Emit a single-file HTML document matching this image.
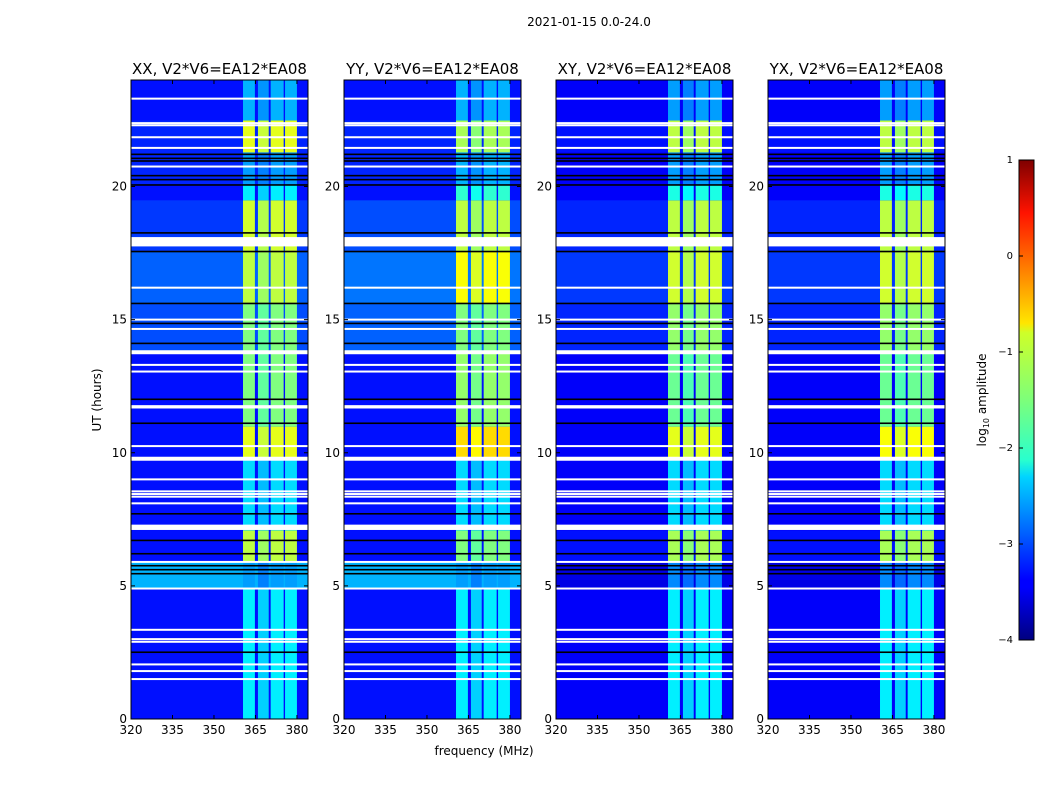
<!DOCTYPE html>
<html><head><meta charset="utf-8"><style>
body{margin:0;background:#fff;width:1050px;height:800px;overflow:hidden;font-family:"DejaVu Sans","Liberation Sans",sans-serif;}
svg text{font-family:"DejaVu Sans","Liberation Sans",sans-serif;}
</style></head><body>
<svg id="fig" width="1050" height="800" xmlns="http://www.w3.org/2000/svg">
<text x="589" y="26" font-size="12" text-anchor="middle">2021-01-15 0.0-24.0</text>
<text x="484" y="755" font-size="12" text-anchor="middle">frequency (MHz)</text>
<text transform="translate(101,400) rotate(-90)" font-size="12" text-anchor="middle">UT (hours)</text>
<defs><linearGradient id="jet" x1="0" y1="1" x2="0" y2="0">
<stop offset="0" stop-color="#00007f"/><stop offset="0.11" stop-color="#0000ff"/><stop offset="0.125" stop-color="#0000ff"/><stop offset="0.34" stop-color="#00d4ff"/><stop offset="0.375" stop-color="#29ffce"/><stop offset="0.5" stop-color="#7dff7a"/><stop offset="0.64" stop-color="#ceff29"/><stop offset="0.66" stop-color="#ffe600"/><stop offset="0.89" stop-color="#ff1300"/><stop offset="1" stop-color="#7f0000"/>
</linearGradient></defs>
<g id="panels"></g>
<g id="cbar">
<rect x="1019" y="160" width="15" height="480" fill="url(#jet)" stroke="#000" stroke-width="1"/>
<text transform="translate(986,400) rotate(-90)" font-size="12" text-anchor="middle">log<tspan font-size="8" dy="3">10</tspan><tspan dy="-3"> amplitude</tspan></text>
</g>
</svg>
<script>
const panelTitles=["XX, V2*V6=EA12*EA08","YY, V2*V6=EA12*EA08","XY, V2*V6=EA12*EA08","YX, V2*V6=EA12*EA08"];
const xTicks=[320,335,350,365,380];
const yTicks=[0,5,10,15,20];
const cbTicks=[1,0,-1,-2,-3,-4];
const segStart=[0,4.9,5.9,7.1,9.8,11.0,13.8,15.6,17.6,19.5,20.1,21.3,22.5];
const segEnd=[4.9,5.9,7.1,9.8,11.0,13.8,15.6,17.6,19.5,20.1,21.3,22.5,24];
const bandXX=[-2.2,-2.6,-1.2,-2.3,-1.0,-1.5,-1.5,-1.2,-1.1,-2.2,-2.6,-1.0,-2.5];
const bandYY=[-2.2,-2.6,-1.5,-2.3,-0.7,-1.4,-1.5,-0.9,-1.2,-1.9,-2.5,-1.3,-2.5];
const bandXY=[-2.2,-2.7,-1.3,-2.3,-1.0,-1.6,-1.4,-1.1,-1.2,-2.0,-2.6,-1.2,-2.6];
const bandYX=[-2.2,-2.7,-1.3,-2.3,-0.9,-1.6,-1.4,-1.1,-1.2,-2.0,-2.6,-1.2,-2.6];
const bgXX=[-3.3,-2.5,-3.3,-3.3,-3.3,-3.3,-3.0,-2.9,-3.1,-3.3,-3.2,-3.2,-3.3];
const bgYY=[-3.3,-2.5,-3.3,-3.3,-3.3,-3.3,-2.9,-2.8,-3.0,-3.3,-3.2,-3.2,-3.3];
const bgXY=[-3.4,-3.5,-3.3,-3.4,-3.4,-3.4,-3.2,-3.1,-3.2,-3.4,-3.4,-3.3,-3.4];
const bgYX=[-3.4,-3.5,-3.3,-3.4,-3.4,-3.4,-3.2,-3.1,-3.2,-3.4,-3.4,-3.3,-3.4];
const colStart=[360.5,365.9,370.5,375.7];
const colEnd=[364.8,369.8,375.2,380.0];
const whiteLines=[23.3,22.38,22.3,21.85,21.45,20.75,16.2,15.0,14.65,13.3,13.05,11.75,11.7,10.25,9.0,8.55,8.45,8.35,8.1,5.9,4.9,3.35,3.0,2.9,2.05,1.8,1.5];
const blackLines=[21.2,21.05,20.95,20.4,20.25,20.05,18.25,17.55,15.6,14.85,14.1,12.0,11.1,7.7,6.7,6.2,5.75,5.6,5.45,2.5];
const thickWhiteStart=[17.75,13.7,9.7,7.1];
const thickWhiteEnd=[18.1,13.85,9.85,7.3];
const bandSets=[bandXX,bandYY,bandXY,bandYX];
const bgSets=[bgXX,bgYY,bgXY,bgYX];
const panelLeft=[131,344,556,768];
const PW=177,PT=80,PB=719,XMIN=320,XMAX=384,YMAX=24;
const NS="http://www.w3.org/2000/svg";
function jet(v){let t=(v+4)/5;t=Math.max(0,Math.min(1,t));
 const r=Math.max(0,Math.min(1,1.5-Math.abs(4*t-3))),g=Math.max(0,Math.min(1,1.5-Math.abs(4*t-2))),b=Math.max(0,Math.min(1,1.5-Math.abs(4*t-1)));
 return `rgb(${Math.round(r*255)},${Math.round(g*255)},${Math.round(b*255)})`;}
function mk(tag,attrs,parent){const e=document.createElementNS(NS,tag);for(const k in attrs)e.setAttribute(k,attrs[k]);parent.appendChild(e);return e;}
const yS=h=>PB-(h/YMAX)*(PB-PT);
const root=document.getElementById('panels');
panelTitles.forEach((title,p)=>{
 const L=panelLeft[p];const xS=f=>L+(f-XMIN)/(XMAX-XMIN)*PW;
 const g=mk('g',{},root);
 
 
 segStart.forEach((s,i)=>{
  const r=mk('rect',{x:L,y:yS(segEnd[i]),width:PW,height:yS(s)-yS(segEnd[i])+0.5,fill:jet(bgSets[p][i])},g);
  
  
  colStart.forEach((c,j)=>{
   const b=mk('rect',{x:xS(c),y:yS(segEnd[i]),width:xS(colEnd[j])-xS(c),height:yS(s)-yS(segEnd[i])+0.5,fill:jet(bandSets[p][i]-(j==1?0.15:0))},g);
   
   
  });
 });
 thickWhiteStart.forEach((s,i)=>{
  const r=mk('rect',{x:L,y:yS(thickWhiteEnd[i]),width:PW,height:yS(s)-yS(thickWhiteEnd[i]),fill:'#fff'},g);
  
  
 });
 whiteLines.forEach(h=>{const r=mk('rect',{x:L,y:yS(h)-1,width:PW,height:2,fill:'#fff'},g);
  
  });
 blackLines.forEach(h=>{const r=mk('rect',{x:L,y:yS(h)-1,width:PW,height:1.6,fill:'#000'},g);
  
  });
 const fr=mk('rect',{x:L,y:PT,width:PW,height:PB-PT,fill:'none',stroke:'#000','stroke-width':1},g);
 
 
 const t=mk('text',{x:L+PW/2,y:PT-6,'font-size':15,'text-anchor':'middle'},g);t.textContent=title;
 
 
 xTicks.forEach(v=>{const x=xS(v);
  mk('line',{x1:x,x2:x,y1:PB,y2:PB-4,stroke:'#000'},g);mk('line',{x1:x,x2:x,y1:PT,y2:PT+4,stroke:'#000'},g);
  const tx=mk('text',{x:x,y:PB+15,'font-size':12,'text-anchor':'middle'},g);tx.textContent=v;
  
  });
 yTicks.forEach(v=>{const y=yS(v);
  mk('line',{x1:L,x2:L+4,y1:y,y2:y,stroke:'#000'},g);mk('line',{x1:L+PW,x2:L+PW-4,y1:y,y2:y,stroke:'#000'},g);
  const ty=mk('text',{x:L-4,y:y+4,'font-size':12,'text-anchor':'end'},g);ty.textContent=v;
  
  });
});
const cb=document.getElementById('cbar');
cbTicks.forEach(v=>{const y=160+(1-v)/5*480;
 mk('line',{x1:1019,x2:1023,y1:y,y2:y,stroke:'#000'},cb);
 const t=mk('text',{x:1013,y:y+3,'font-size':10,'text-anchor':'end'},cb);t.textContent=v<0?'\u2212'+(-v):v;
 
 });
</script>
</body></html>
